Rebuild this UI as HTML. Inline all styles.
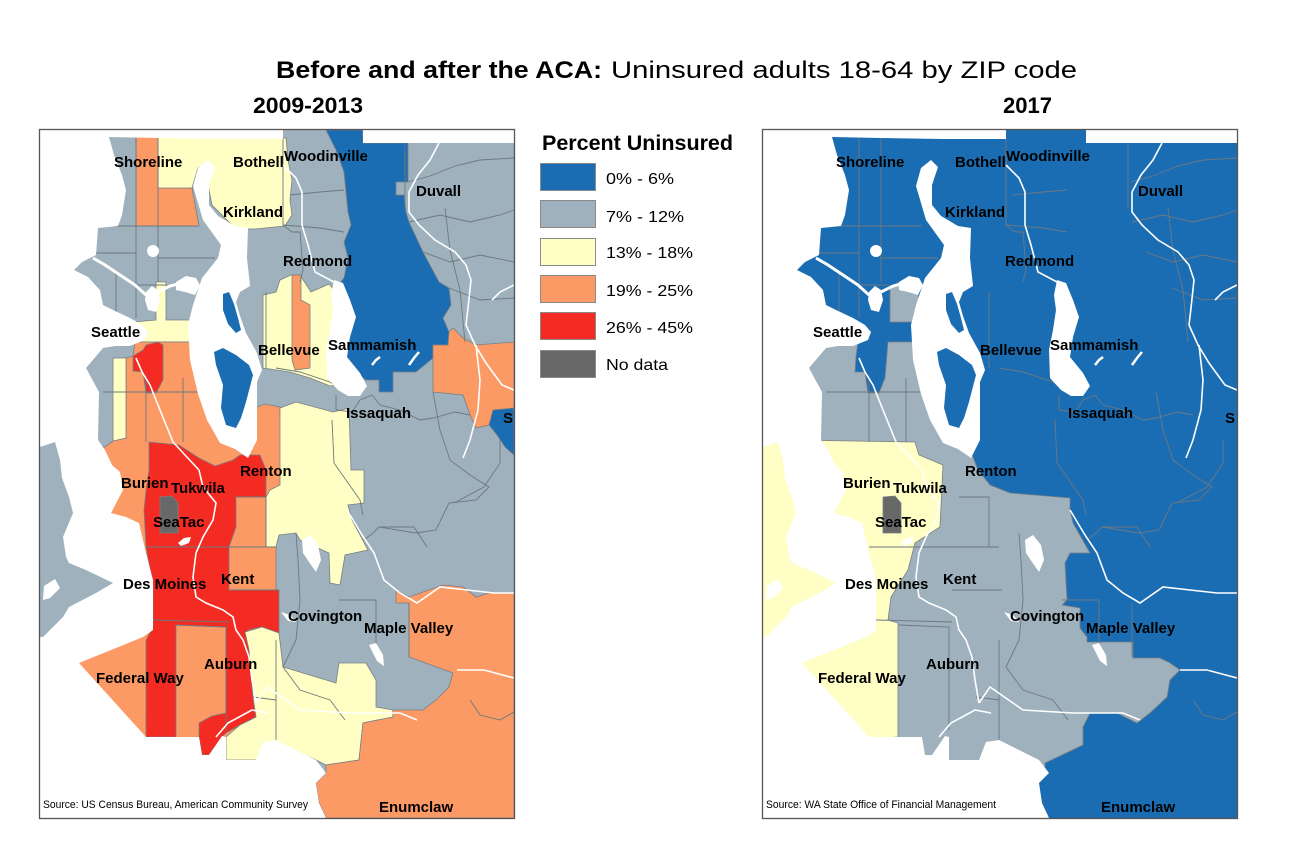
<!DOCTYPE html>
<html><head><meta charset="utf-8"><style>
html,body{margin:0;padding:0;background:#fff;}
svg{display:block;}
text{font-family:"Liberation Sans",Arial,sans-serif;fill:#000;}
.lb{font-weight:bold;font-size:15px;}
</style></head><body>
<svg width="1302" height="868" viewBox="0 0 1302 868" xmlns="http://www.w3.org/2000/svg">
<rect x="0" y="0" width="1302" height="868" fill="#fff"/>

<text x="276" y="78" font-size="24" font-weight="bold" textLength="326" lengthAdjust="spacingAndGlyphs">Before and after the ACA:</text>
<text x="611" y="78" font-size="24" textLength="466" lengthAdjust="spacingAndGlyphs">Uninsured adults 18-64 by ZIP code</text>
<text x="253" y="113" font-size="22" font-weight="bold" textLength="110" lengthAdjust="spacingAndGlyphs">2009-2013</text>
<text x="1003" y="113" font-size="22" font-weight="bold" textLength="49" lengthAdjust="spacingAndGlyphs">2017</text>

<!-- Legend -->
<text x="542" y="150" font-size="21" font-weight="bold" textLength="191" lengthAdjust="spacingAndGlyphs">Percent Uninsured</text>
<g stroke="#8a8a8a" stroke-width="1">
<rect x="540.5" y="163.5" width="55" height="27" fill="#1b6db3"/>
<rect x="540.5" y="200.5" width="55" height="27" fill="#9eb1bd"/>
<rect x="540.5" y="238.5" width="55" height="27" fill="#ffffc5"/>
<rect x="540.5" y="275.5" width="55" height="27" fill="#fb9a65"/>
<rect x="540.5" y="312.5" width="55" height="27" fill="#f32b22"/>
<rect x="540.5" y="350.5" width="55" height="27" fill="#686868"/>
</g>
<g font-size="16">
<text x="606" y="184" textLength="68" lengthAdjust="spacingAndGlyphs">0% - 6%</text>
<text x="606" y="222" textLength="78" lengthAdjust="spacingAndGlyphs">7% - 12%</text>
<text x="606" y="258" textLength="87" lengthAdjust="spacingAndGlyphs">13% - 18%</text>
<text x="606" y="296" textLength="87" lengthAdjust="spacingAndGlyphs">19% - 25%</text>
<text x="606" y="333" textLength="87" lengthAdjust="spacingAndGlyphs">26% - 45%</text>
<text x="606" y="370" textLength="62" lengthAdjust="spacingAndGlyphs">No data</text>
</g>

<defs>
<clipPath id="clipM"><rect x="39" y="129" width="475" height="689"/></clipPath>
<g id="lines" fill="none" stroke="#6e7880" stroke-width="0.9">
<polyline points="98,226 199,226"/>
<polyline points="136,138 136,318"/>
<polyline points="158,138 158,282"/>
<polyline points="96,253 136,253"/>
<polyline points="158,258 215,258"/>
<polyline points="116,272 116,312"/>
<polyline points="136,285 166,285"/>
<polyline points="283,138 283,225 292,232 300,232 303,270 300,282"/>
<polyline points="283,225 320,228 344,232"/>
<polyline points="290,195 320,192 344,190"/>
<polyline points="408,182 430,176 455,166 480,160 514,158"/>
<polyline points="409,222 440,215 470,222 500,215 514,210"/>
<polyline points="423,252 450,262 480,255 514,262"/>
<polyline points="449,288 480,300 514,298"/>
<polyline points="405,145 405,208"/>
<polyline points="445,208 450,250 460,290 465,342"/>
<polyline points="336,395 336,410 352,412 360,400 372,395 380,405 400,410 420,420 433,418 455,412 470,415"/>
<polyline points="433,392 440,430 450,460 470,475 489,487 476,500 449,503 436,530 416,533 379,527 373,533 364,540"/>
<polyline points="332,420 334,463 360,500 363,515"/>
<polyline points="380,527 414,527 427,547"/>
<polyline points="454,503 484,487 500,463 500,440"/>
<polyline points="229,547 276,547"/>
<polyline points="236,497 266,497 266,547"/>
<polyline points="229,590 279,590"/>
<polyline points="146,547 229,547"/>
<polyline points="153,620 229,622"/>
<polyline points="296,533 298,560 300,600 296,640 283,667"/>
<polyline points="339,600 376,600 376,650"/>
<polyline points="103,392 199,392"/>
<polyline points="146,375 146,442"/>
<polyline points="183,378 183,442"/>
<polyline points="266,292 266,368"/>
<polyline points="276,368 300,372 330,382 345,392"/>
<polyline points="176,625 226,627 226,730"/>
<polyline points="253,697 276,700"/>
<polyline points="409,603 409,657"/>
<polyline points="283,667 300,690 330,700 345,720"/>
<polyline points="276,640 276,740"/>
<polyline points="470,700 480,715 500,720 514,712"/>
</g>
<g id="water" fill="#fff">
<polygon points="39,129 283,129 283,139 220,139 158,138 109,137 114,155 122,175 126,190 122,215 118,226 98,228 96,255 82,262 74,270 88,277 100,290 103,305 113,310 130,318 142,325 148,332 145,340 130,346 115,346 103,348 86,368 99,392 98,440 105,450 112,465 120,472 123,490 111,513 126,517 139,523 146,553 153,580 153,630 143,637 79,663 146,737 176,737 199,737 202,755 209,755 222,736 226,737 226,760 256,760 263,742 276,740 316,760 326,773 316,783 319,803 326,818 39,818"/>
<rect x="363" y="129" width="151" height="14"/>
<polygon points="208,160 215,167 209,185 209,205 218,216 235,226 248,228 247,258 250,286 240,292 236,302 240,316 246,333 257,353 262,370 257,382 257,407 257,440 248,458 235,449 220,443 207,420 198,394 190,360 188,325 193,305 202,278 218,258 221,245 203,220 193,186 198,168"/>
<polygon points="334,280 343,283 350,300 356,317 350,337 347,357 360,373 367,386 360,396 348,396 338,390 327,378 326,350 330,330 333,310 331,295"/>
<ellipse cx="153" cy="251" rx="6" ry="6"/>
<polygon points="146,292 152,286 158,290 160,300 156,312 148,310 145,300"/>
<polygon points="176,282 186,276 196,278 200,285 195,295 185,292 176,290"/>
<polygon points="302,540 310,535 318,545 321,560 316,572 309,562 303,553"/>
<polygon points="369,645 376,643 383,655 384,666 377,661"/>
<polygon points="281,612 290,615 296,622 288,621"/>
<polygon points="178,543 184,538 191,537 189,543 181,546"/>
<polyline points="93,258 105,265 120,275 135,285 146,295" fill="none" stroke="#fff" stroke-width="3"/>
<polyline points="158,292 170,286 178,284" fill="none" stroke="#fff" stroke-width="3"/>
<polyline points="372,365 376,360 380,357" fill="none" stroke="#fff" stroke-width="2.5"/>
<polyline points="409,365 414,358 419,352" fill="none" stroke="#fff" stroke-width="2.5"/>
</g>
<g id="rivers" fill="none" stroke="#fff" stroke-width="1.6">
<polyline points="283,165 296,178 302,192 302,225 308,245 315,272 334,282"/>
<polyline points="439,143 430,160 418,175 409,192 409,212 419,225 435,240 455,252 466,265 471,280 468,308 466,325 475,345 486,363 502,385 514,390"/>
<polyline points="476,345 480,380 478,410 470,440 463,458"/>
<polyline points="514,285 500,292 492,300"/>
<polyline points="347,510 362,535 374,553 384,580 400,593 417,603 440,587 467,590 494,593 514,593"/>
<polyline points="199,470 203,487 216,503 213,520 203,537 196,553 193,577 196,597 206,603 223,610 233,617 236,630 243,640 249,657 252,680 256,703"/>
<polyline points="256,703 267,687 300,710 350,713 400,713 417,720"/>
<polyline points="457,670 484,670 514,678"/>
<polyline points="136,358 142,372 150,385 160,410 173,442 185,455 199,470"/>
<polyline points="216,737 228,723 252,710 268,713"/>
</g>
<polygon id="vashon" points="40,447 55,442 60,460 62,478 69,497 73,513 63,537 66,557 69,563 86,570 113,583 96,593 69,607 63,617 53,627 43,637 40,637"/>
<polygon id="mercer" points="214,352 223,348 236,355 249,365 253,375 246,402 241,418 236,428 226,425 221,408 223,385 216,365"/>
<polygon id="medina" points="223,294 229,292 234,304 238,318 241,330 236,333 228,324 223,310"/>
<polygon id="seatac" points="160,497 172,496 178,503 178,533 160,533"/>
</defs>

<!-- LEFT MAP 2009-2013 -->
<g clip-path="url(#clipM)">
<rect x="39" y="129" width="475" height="689" fill="#9eb1bd"/>
<g stroke="#7a7f84" stroke-width="0.8">
<polygon fill="#fb9a65" points="136,136 158,136 158,188 192,188 199,226 136,226"/>
<polygon fill="#ffffc5" points="158,137 220,138 286,138 288,160 292,180 290,200 292,215 285,226 255,229 236,229 225,218 212,205 208,185 208,165 198,168 192,188 158,188"/>
<polygon fill="#1b6db3" points="326,130 363,130 363,143 408,143 408,182 396,182 396,195 404,195 406,212 409,222 423,252 439,282 449,288 451,305 443,318 449,332 448,345 433,345 433,358 416,372 393,372 393,392 379,392 379,380 366,380 350,370 340,355 343,338 348,325 345,305 338,285 344,278 348,258 344,242 351,225 348,212 344,172 336,150"/>
<polygon fill="#ffffc5" points="263,295 276,292 280,280 291,275 300,275 311,292 329,284 336,292 336,340 334,372 340,385 330,386 310,378 290,372 263,368"/>
<polygon fill="#fb9a65" points="292,275 301,275 301,300 310,305 310,368 295,370 292,360"/>
<polygon fill="#fb9a65" points="433,345 448,345 449,332 453,328 463,338 476,345 514,342 514,412 493,412 489,425 476,428 470,415 463,395 433,392"/>
<polygon fill="#1b6db3" points="493,410 514,408 514,455 505,447 497,435 489,425"/>
<polygon fill="#ffffc5" points="156,282 166,282 166,320 193,320 193,342 133,342 133,322 156,320"/>
<polygon fill="#fb9a65" points="70,342 193,342 196,378 206,395 216,425 236,446 250,440 257,407 265,404 280,407 282,470 282,500 276,500 276,740 70,740"/>
<polygon fill="#9eb1bd" points="70,342 135,342 133,356 126,358 126,438 113,441 105,447 70,447"/>
<polygon fill="#ffffc5" points="113,358 126,358 126,438 113,441"/>
<polygon fill="#f32b22" points="133,356 143,350 146,345 158,342 163,345 163,380 156,393 146,393 143,372 133,371"/>
<polygon fill="#ffffc5" points="280,408 296,402 333,412 349,408 351,470 364,470 364,503 348,505 352,520 368,550 345,555 340,585 330,583 329,553 300,540 296,533 279,535 276,547 266,547 266,497 270,490 280,485"/>
<polygon fill="#f32b22" points="149,442 179,445 199,458 215,466 233,460 240,455 260,455 266,470 266,497 236,497 236,527 229,547 229,590 279,590 279,633 262,627 248,630 249,650 253,697 256,717 240,725 226,733 222,737 209,755 202,755 199,737 199,723 212,716 226,713 226,627 176,625 176,737 146,737 146,640 153,627 153,587 146,547 144,510 146,490 149,470"/>
<polygon fill="#ffffc5" points="245,632 262,627 279,633 283,667 336,683 339,663 366,663 376,680 376,707 393,710 393,717 363,723 359,760 326,765 316,760 276,742 263,760 226,760 226,737 240,725 256,717 253,697 249,650"/>
<polygon fill="#fb9a65" points="396,590 409,597 443,585 463,587 476,597 489,593 514,593 514,818 326,818 319,803 316,783 326,773 326,765 359,760 363,723 393,717 393,710 423,710 436,700 449,687 453,673 409,657 409,603 396,603"/>
<use href="#seatac" fill="#686868"/>
</g>
<use href="#lines"/>
<use href="#water"/>
<use href="#vashon" fill="#9eb1bd"/>
<polygon fill="#fff" points="44,586 55,579 60,588 50,598 43,600"/>
<use href="#mercer" fill="#1b6db3"/>
<use href="#medina" fill="#1b6db3"/>
<use href="#rivers"/>
<g class="lb">
<text x="114" y="167">Shoreline</text>
<text x="233" y="167">Bothell</text>
<text x="284" y="161">Woodinville</text>
<text x="223" y="217">Kirkland</text>
<text x="416" y="196">Duvall</text>
<text x="283" y="266">Redmond</text>
<text x="91" y="337">Seattle</text>
<text x="258" y="355">Bellevue</text>
<text x="328" y="350">Sammamish</text>
<text x="346" y="418">Issaquah</text>
<text x="503" y="423">S</text>
<text x="240" y="476">Renton</text>
<text x="121" y="488">Burien</text>
<text x="171" y="493">Tukwila</text>
<text x="153" y="527">SeaTac</text>
<text x="123" y="589">Des Moines</text>
<text x="221" y="584">Kent</text>
<text x="288" y="621">Covington</text>
<text x="364" y="633">Maple Valley</text>
<text x="204" y="669">Auburn</text>
<text x="96" y="683">Federal Way</text>
<text x="379" y="812">Enumclaw</text>
</g>
<text x="43" y="808" font-size="11" textLength="265" lengthAdjust="spacingAndGlyphs">Source: US Census Bureau, American Community Survey</text>
</g>
<rect x="39.5" y="129.5" width="475" height="689" fill="none" stroke="#555" stroke-width="1.3"/>

<!-- RIGHT MAP 2017 -->
<g transform="translate(723,0)">
<g clip-path="url(#clipM)">
<rect x="39" y="129" width="475" height="689" fill="#1b6db3"/>
<g stroke="#7a7f84" stroke-width="0.8">
<polygon fill="#9eb1bd" points="167,288 176,282 186,283 195,290 197,322 167,322"/>
<polygon fill="#9eb1bd" points="70,342 135,342 133,356 132,372 142,372 145,393 156,393 162,378 165,342 192,342 196,378 206,395 216,425 236,446 248,452 255,470 267,485 287,493 347,498 347,510 350,523 367,553 347,553 342,563 344,600 339,605 357,608 357,628 364,637 364,642 410,642 410,658 437,658 447,663 457,670 447,680 444,697 427,713 414,723 394,713 367,713 360,727 360,745 322,763 322,775 300,775 230,775 198,765 170,745 70,745"/>
<polygon fill="#ffffc5" points="70,440 192,442 196,455 220,465 217,527 192,543 185,570 168,597 165,620 175,623 175,737 70,745"/>
<use href="#seatac" fill="#686868"/>
</g>
<use href="#lines"/>
<use href="#water"/>
<use href="#vashon" fill="#ffffc5"/>
<polygon fill="#fff" points="44,586 55,579 60,588 50,598 43,600"/>
<use href="#mercer" fill="#1b6db3"/>
<use href="#medina" fill="#1b6db3"/>
<use href="#rivers"/>
<g class="lb">
<text x="113" y="167">Shoreline</text>
<text x="232" y="167">Bothell</text>
<text x="283" y="161">Woodinville</text>
<text x="222" y="217">Kirkland</text>
<text x="415" y="196">Duvall</text>
<text x="282" y="266">Redmond</text>
<text x="90" y="337">Seattle</text>
<text x="257" y="355">Bellevue</text>
<text x="327" y="350">Sammamish</text>
<text x="345" y="418">Issaquah</text>
<text x="502" y="423">S</text>
<text x="242" y="476">Renton</text>
<text x="120" y="488">Burien</text>
<text x="170" y="493">Tukwila</text>
<text x="152" y="527">SeaTac</text>
<text x="122" y="589">Des Moines</text>
<text x="220" y="584">Kent</text>
<text x="287" y="621">Covington</text>
<text x="363" y="633">Maple Valley</text>
<text x="203" y="669">Auburn</text>
<text x="95" y="683">Federal Way</text>
<text x="378" y="812">Enumclaw</text>
</g>
<text x="43" y="808" font-size="11" textLength="230" lengthAdjust="spacingAndGlyphs">Source: WA State Office of Financial Management</text>
</g>
<rect x="39.5" y="129.5" width="475" height="689" fill="none" stroke="#555" stroke-width="1.3"/>
</g>
</svg>
</body></html>
